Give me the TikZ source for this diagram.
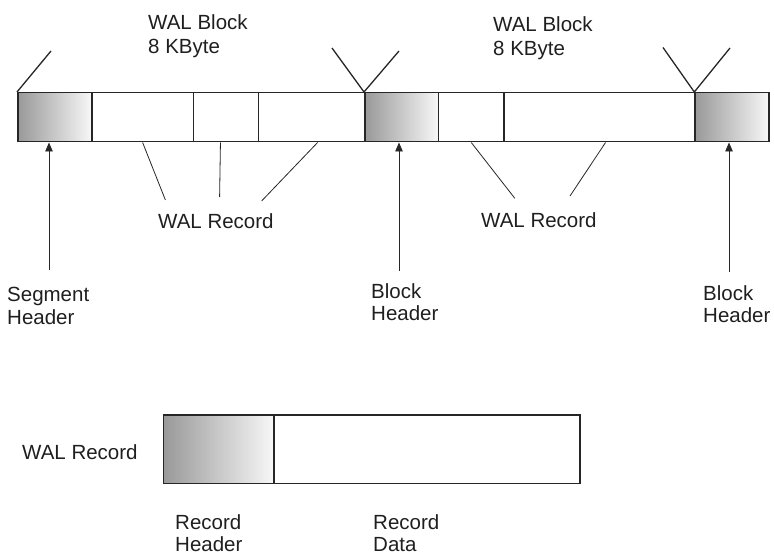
\documentclass[tikz,border=0pt]{standalone}
\usepackage{fontspec}
\setmainfont{Liberation Sans}
\usetikzlibrary{arrows.meta}
\begin{document}
\begin{tikzpicture}[x=1pt,y=-1pt,
 lbl/.style={anchor=north west, inner sep=0pt, align=left, font=\fontsize{20.5}{22.5}\selectfont, text=black!88},
 cell/.style={draw=black!85, line width=1.5pt, anchor=north west, inner sep=0pt, minimum height=49pt},
 hdr/.style={cell, left color=black!40, right color=black!3},
 thin/.style={draw=black!85, line width=0.8pt},
 arr/.style={thin, -{Triangle[length=9pt,width=7.5pt]}},
 vline/.style={draw=black!85, line width=1.3pt}]
\useasboundingbox (0,0) rectangle (774,556);

% top bar
\node[hdr,  minimum width=74pt]    (sh)  at (17,92) {};
\node[cell, minimum width=101.7pt] (r1)  at (91,92) {};
\node[cell, minimum width=65pt]    (r2)  at (192.7,92) {};
\node[cell, minimum width=106.3pt] (r3)  at (257.7,92) {};
\node[hdr,  minimum width=73.7pt]  (bh1) at (364,92) {};
\node[cell, minimum width=65.6pt]  (r4)  at (437.7,92) {};
\node[cell, minimum width=191pt]   (r5)  at (503.3,92) {};
\node[hdr,  minimum width=74pt]    (bh2) at (694.3,92) {};

% bottom record
\node[hdr,  minimum width=110.6pt, minimum height=68.7pt] (rh) at (162.7,414) {};
\node[cell, minimum width=306pt,   minimum height=68.7pt] (rd) at (273.3,414) {};

% block boundary marks
\coordinate (v0)  at (51,51);
\coordinate (v1a) at (332,48);
\coordinate (v1b) at (399,51);
\coordinate (v2a) at (663,47.5);
\coordinate (v2b) at (730,48);
\draw[vline] (sh.north west) -- (v0);
\draw[vline] (v1a) -- (bh1.north west) -- (v1b);
\draw[vline] (v2a) -- (bh2.north west) -- (v2b);

% labels
\node[lbl, font=\fontsize{20.5}{24}\selectfont] (wb1) at (148,14) {WAL Block\\8 KByte};
\node[lbl, font=\fontsize{20.5}{24}\selectfont] (wb2) at (493,16) {WAL Block\\8 KByte};
\node[lbl] (wr1) at (158,213) {WAL Record};
\node[lbl] (wr2) at (481,212) {WAL Record};
\node[lbl] (sgh) at (7,287) {Segment\\Header};
\node[lbl] (bl1) at (371,283) {Block\\Header};
\node[lbl] (bl2) at (703,285) {Block\\Header};
\node[lbl] (wrb) at (22,444) {WAL Record};
\node[lbl] (rhl) at (175,514) {Record\\Header};
\node[lbl] (rdl) at (373,514) {Record\\Data};

% record connectors
\coordinate (e1) at (165.4,200);
\coordinate (e2) at (219.6,197);
\coordinate (e3) at (261.6,201);
\coordinate (e4) at (514.8,198.3);
\coordinate (e5) at (570,196);
\draw[thin] (r1.south) -- (e1);
\draw[thin] ([xshift=-5.5pt]r2.south) -- (e2);
\draw[thin] ([xshift=6pt]r3.south) -- (e3);
\draw[thin] (r4.south) -- (e4);
\draw[thin] ([xshift=6pt]r5.south) -- (e5);

% header arrows
\coordinate (a1) at (49,270);
\coordinate (a2) at (399,271);
\coordinate (a3) at (729,272);
\draw[arr] (a1) -- (a1 |- sh.south);
\draw[arr] (a2) -- (a2 |- bh1.south);
\draw[arr] (a3) -- (a3 |- bh2.south);
\end{tikzpicture}
\end{document}
